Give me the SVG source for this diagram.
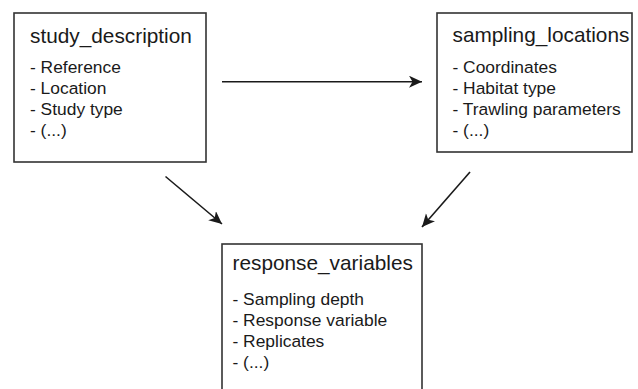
<svg xmlns="http://www.w3.org/2000/svg" width="638" height="389" viewBox="0 0 638 389">
<defs>
<style>
.box{fill:#fff;stroke:#333;stroke-width:1.6}
.title{font-family:"Liberation Sans",Arial,sans-serif;font-size:20.8px;fill:#1a1a1a}
.item{font-family:"Liberation Sans",Arial,sans-serif;font-size:17.4px;fill:#1a1a1a}
.conn{stroke:#1a1a1a;stroke-width:1.6;fill:none;marker-end:url(#ah)}
</style>
<marker id="ah" markerUnits="userSpaceOnUse" markerWidth="16" markerHeight="14" refX="13" refY="6" orient="auto">
<path d="M0,0 L13,6 L0,12 L3.5,6 z" fill="#1a1a1a"/>
</marker>
</defs>
<rect width="638" height="389" fill="#fff"/>
<g id="study_description">
<rect class="box" x="14" y="13" width="192" height="149"/>
<text class="title" x="30" y="42.7">study_description</text>
<text class="item" x="30" y="73">- Reference</text>
<text class="item" x="30" y="94">- Location</text>
<text class="item" x="30" y="115">- Study type</text>
<text class="item" x="30" y="136">- (...)</text>
</g>
<g id="sampling_locations">
<rect class="box" x="437" y="13" width="195" height="139"/>
<text class="title" x="452.5" y="42">sampling_locations</text>
<text class="item" x="452.5" y="72.7">- Coordinates</text>
<text class="item" x="452.5" y="93.7">- Habitat type</text>
<text class="item" x="452.5" y="114.7">- Trawling parameters</text>
<text class="item" x="452.5" y="135.7">- (...)</text>
</g>
<g id="response_variables">
<rect class="box" x="222" y="244" width="200" height="160"/>
<text class="title" x="232.5" y="269.5">response_variables</text>
<text class="item" x="232.5" y="305">- Sampling depth</text>
<text class="item" x="232.5" y="326">- Response variable</text>
<text class="item" x="232.5" y="347">- Replicates</text>
<text class="item" x="232.5" y="368">- (...)</text>
</g>
<g id="connectors">
<line class="conn" x1="222" y1="81.7" x2="422" y2="81.7"/>
<line class="conn" x1="165.5" y1="176.5" x2="222" y2="224"/>
<line class="conn" x1="470" y1="172" x2="422" y2="227"/>
</g>
</svg>
